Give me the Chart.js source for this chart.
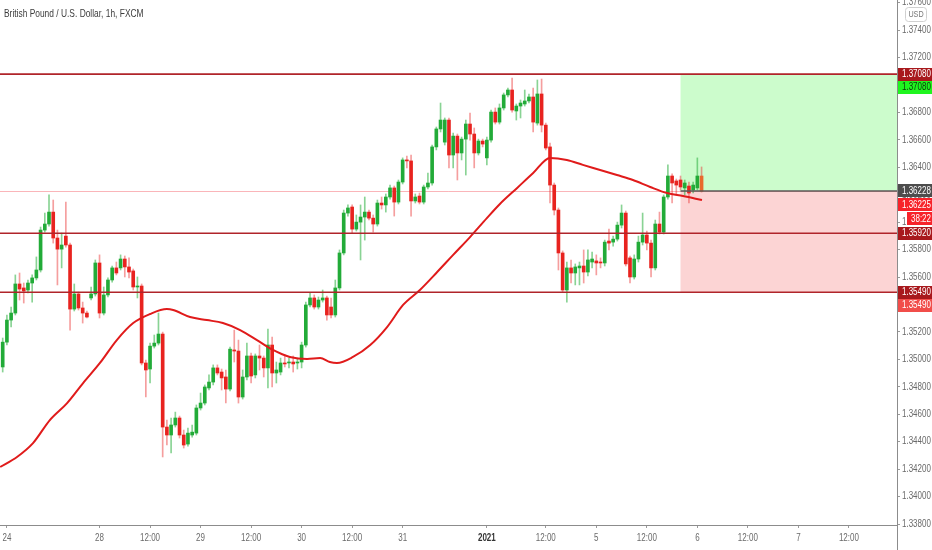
<!DOCTYPE html>
<html>
<head>
<meta charset="utf-8">
<title>GBPUSD 1h</title>
<script src="https://cdn.jsdelivr.net/npm/chart.js@4.4.1/dist/chart.umd.min.js"></script>
<style>
  html, body { margin: 0; padding: 0; background: #ffffff; }
  #wrap { width: 932px; height: 550px; }
</style>
</head>
<body>
<div id="wrap"><canvas id="priceChart" width="932" height="550"></canvas></div>
<script>
const chartTitle = "British Pound / U.S. Dollar, 1h, FXCM";

// hourly candles (bar index = position on the time axis)
const open = [
  1.34945,1.35126,1.35287,1.35338,1.35550,1.35521,1.35506,1.35557,1.35594,1.35652,
  1.35943,1.35987,1.36074,1.35885,1.35804,1.35899,1.35834,1.35367,1.35477,1.35375,
  1.35338,1.35448,1.35477,1.35703,1.35338,1.35470,1.35579,1.35667,1.35667,1.35732,
  1.35674,1.35645,1.35528,1.35535,1.34974,1.34930,1.35097,1.35119,1.35185,1.34507,
  1.34449,1.34522,1.34573,1.34449,1.34383,1.34449,1.34463,1.34646,1.34682,1.34792,
  1.34835,1.34938,1.34908,1.34872,1.34784,1.35069,1.35061,1.34726,1.34872,1.35025,
  1.34887,1.35025,1.35010,1.34938,1.35105,1.34901,1.34908,1.34974,1.34974,1.34981,
  1.34974,1.34981,1.35105,1.35397,1.35448,1.35382,1.35433,1.35448,1.35382,1.35324,
  1.35521,1.35776,1.36067,1.36111,1.35950,1.36001,1.36038,1.36074,1.36030,1.35987,
  1.36140,1.36126,1.36184,1.36250,1.36147,1.36293,1.36454,1.36447,1.36155,1.36191,
  1.36147,1.36257,1.36286,1.36549,1.36680,1.36584,1.36745,1.36490,1.36628,1.36505,
  1.36606,1.36716,1.36643,1.36505,1.36592,1.36469,1.36599,1.36803,1.36730,1.36833,
  1.36928,1.36964,1.36811,1.36847,1.36862,1.36884,1.36913,1.36723,1.36935,1.36708,
  1.36549,1.36271,1.36089,1.35776,1.35506,1.35667,1.35630,1.35667,1.35681,1.35637,
  1.35710,1.35718,1.35710,1.35703,1.35863,1.35855,1.35877,1.35979,1.36067,1.35740,
  1.35601,1.35732,1.35855,1.35907,1.35848,1.35667,1.35987,1.35928,1.36184,1.36337,
  1.36301,1.36308,1.36250,1.36264,1.36235,1.36250,1.36337
];
const high = [
  1.35156,1.35324,1.35382,1.35616,1.35630,1.35557,1.35579,1.35616,1.35747,1.35965,
  1.36067,1.36199,1.36162,1.35943,1.35921,1.36147,1.35848,1.35550,1.35491,1.35418,
  1.35353,1.35528,1.35725,1.35762,1.35528,1.35594,1.35681,1.35710,1.35762,1.35754,
  1.35740,1.35659,1.35601,1.35550,1.34996,1.35119,1.35178,1.35338,1.35199,1.34558,
  1.34573,1.34616,1.34587,1.34485,1.34500,1.34522,1.34668,1.34755,1.34814,1.34887,
  1.34960,1.34960,1.34930,1.34923,1.35090,1.35214,1.35141,1.34923,1.35119,1.35047,
  1.35040,1.35105,1.35025,1.35221,1.35163,1.34981,1.35010,1.35032,1.35010,1.35025,
  1.35010,1.35126,1.35418,1.35484,1.35470,1.35455,1.35506,1.35462,1.35448,1.35579,
  1.35798,1.36089,1.36126,1.36126,1.36053,1.36126,1.36184,1.36089,1.36053,1.36162,
  1.36184,1.36206,1.36271,1.36264,1.36308,1.36469,1.36483,1.36490,1.36206,1.36213,
  1.36271,1.36359,1.36563,1.36694,1.36869,1.36760,1.36760,1.36650,1.36643,1.36621,
  1.36745,1.36796,1.36687,1.36606,1.36606,1.36621,1.36818,1.36833,1.36862,1.36942,
  1.36978,1.37051,1.36862,1.36891,1.36964,1.36935,1.36978,1.37037,1.37044,1.36723,
  1.36577,1.36286,1.36104,1.35791,1.35710,1.35725,1.35696,1.35710,1.35798,1.35798,
  1.35783,1.35762,1.35740,1.35870,1.35950,1.35899,1.36001,1.36126,1.36082,1.35754,
  1.35762,1.35899,1.36067,1.35936,1.35870,1.36016,1.36074,1.36199,1.36418,1.36352,
  1.36315,1.36337,1.36308,1.36293,1.36293,1.36469,1.36403
];
const low = [
  1.34908,1.35105,1.35236,1.35324,1.35433,1.35411,1.35484,1.35418,1.35579,1.35637,
  1.35928,1.35972,1.35848,1.35543,1.35667,1.35819,1.35214,1.35353,1.35360,1.35265,
  1.35302,1.35433,1.35462,1.35302,1.35324,1.35455,1.35564,1.35616,1.35652,1.35601,
  1.35594,1.35506,1.35448,1.34960,1.34726,1.34828,1.35083,1.35105,1.34289,1.34376,
  1.34318,1.34507,1.34427,1.34354,1.34368,1.34434,1.34449,1.34631,1.34668,1.34777,
  1.34814,1.34887,1.34777,1.34682,1.34770,1.34981,1.34682,1.34711,1.34850,1.34828,
  1.34865,1.34923,1.34872,1.34792,1.34799,1.34828,1.34887,1.34945,1.34938,1.34908,
  1.34930,1.34938,1.35090,1.35382,1.35367,1.35367,1.35418,1.35287,1.35302,1.35309,
  1.35506,1.35762,1.36045,1.35921,1.35936,1.35725,1.35870,1.36016,1.35928,1.35972,
  1.36096,1.36074,1.36169,1.36045,1.36133,1.36279,1.36396,1.36045,1.36140,1.36133,
  1.36133,1.36242,1.36271,1.36527,1.36658,1.36563,1.36396,1.36396,1.36308,1.36454,
  1.36344,1.36599,1.36396,1.36490,1.36549,1.36418,1.36584,1.36716,1.36716,1.36818,
  1.36913,1.36803,1.36745,1.36760,1.36847,1.36869,1.36658,1.36708,1.36658,1.36527,
  1.36140,1.36053,1.35652,1.35491,1.35418,1.35557,1.35543,1.35543,1.35557,1.35608,
  1.35667,1.35616,1.35667,1.35681,1.35798,1.35826,1.35863,1.35958,1.35681,1.35557,
  1.35586,1.35710,1.35834,1.35798,1.35601,1.35652,1.35914,1.35914,1.36169,1.36140,
  1.36199,1.36235,1.36199,1.36140,1.36213,1.36235,1.36220
];
const close = [
  1.35126,1.35287,1.35338,1.35550,1.35513,1.35499,1.35557,1.35594,1.35652,1.35943,
  1.35987,1.36074,1.35885,1.35804,1.35834,1.35834,1.35367,1.35477,1.35375,1.35338,
  1.35309,1.35477,1.35703,1.35338,1.35470,1.35579,1.35667,1.35630,1.35732,1.35674,
  1.35637,1.35528,1.35535,1.34974,1.34923,1.35097,1.35119,1.35185,1.34507,1.34449,
  1.34522,1.34573,1.34449,1.34376,1.34463,1.34470,1.34646,1.34682,1.34799,1.34835,
  1.34938,1.34901,1.34865,1.34784,1.35075,1.35061,1.34726,1.34872,1.35025,1.34879,
  1.35025,1.35010,1.34938,1.35105,1.34901,1.34923,1.34974,1.34967,1.34981,1.34967,
  1.34981,1.35105,1.35397,1.35448,1.35382,1.35433,1.35448,1.35324,1.35324,1.35521,
  1.35776,1.36067,1.36104,1.35950,1.36001,1.36038,1.36074,1.36030,1.35987,1.36140,
  1.36126,1.36184,1.36250,1.36147,1.36293,1.36454,1.36447,1.36155,1.36184,1.36147,
  1.36257,1.36286,1.36549,1.36680,1.36745,1.36745,1.36490,1.36628,1.36505,1.36606,
  1.36716,1.36643,1.36505,1.36592,1.36570,1.36599,1.36803,1.36730,1.36833,1.36928,
  1.36964,1.36818,1.36847,1.36869,1.36884,1.36913,1.36730,1.36935,1.36708,1.36541,
  1.36271,1.36089,1.35776,1.35506,1.35667,1.35630,1.35674,1.35681,1.35637,1.35725,
  1.35732,1.35703,1.35703,1.35855,1.35848,1.35877,1.35979,1.36067,1.35696,1.35601,
  1.35732,1.35855,1.35907,1.35848,1.35667,1.35987,1.35928,1.36184,1.36337,1.36286,
  1.36271,1.36257,1.36286,1.36213,1.36271,1.36337,1.36225
];

// moving average line, sampled along the curve
const maIndex = [
  -0.6, 3.4, 7.2, 11.2, 15.3, 19.1, 23.1, 27.1, 31.0, 35.0, 39.0, 40.5, 44.5,
  48.5, 52.3, 56.4, 60.4, 64.2, 68.2, 72.3, 75.4, 77.7, 79.4, 83.2, 87.3, 91.3,
  95.1, 99.1, 103.2, 107.0, 111.0, 115.0, 118.1, 122.2, 126.0, 130.0, 134.0,
  137.8, 141.9, 145.9, 149.7, 153.8, 157.8, 161.6, 166.1
];
const maValues = [
  1.34216, 1.34289, 1.34390, 1.34558, 1.34682, 1.34828, 1.34974, 1.35141, 1.35265,
  1.35331, 1.35367, 1.35360, 1.35309, 1.35287, 1.35265, 1.35214, 1.35141, 1.35069,
  1.35018, 1.35003, 1.35010, 1.34981, 1.34974, 1.35018, 1.35105, 1.35236, 1.35397,
  1.35506, 1.35637, 1.35762, 1.35892, 1.36030, 1.36133, 1.36250, 1.36359, 1.36469,
  1.36454, 1.36418, 1.36381, 1.36344, 1.36308, 1.36257, 1.36213, 1.36191, 1.36162
];

// horizontal levels and the long position drawing
const levelPrices = [1.3708, 1.3592, 1.3549];
const targetPrice = 1.3708;
const entryPrice = 1.36228;
const stopPrice = 1.3549;
const positionStart = 161;
const countdown = "38:22";

const xTickIndex = [1, 23, 35, 47, 59, 71, 83, 95, 115, 129, 141, 153, 165, 177, 189, 201];
const xTickLabels = ["24", "28", "12:00", "29", "12:00", "30", "12:00", "31",
  "2021", "12:00", "5", "12:00", "6", "12:00", "7", "12:00"];
const yTickValues = [
  1.338, 1.340, 1.342, 1.344, 1.346, 1.348, 1.350, 1.352, 1.354, 1.356,
  1.358, 1.360, 1.362, 1.364, 1.366, 1.368, 1.370, 1.372, 1.374, 1.376
];

const FONT = '"Liberation Sans", Arial, sans-serif';
const SQUEEZE = 0.8; // the screenshot uses a narrow face
const lastIdx = close.length - 1;

const bodyColor = (i) => {
  if (i === lastIdx) return "#e8692c";
  return close[i] >= open[i] ? "#22ab38" : "#e8231f";
};
const wickColor = (i) =>
  close[i] >= open[i] ? "rgba(40, 175, 60, 0.55)" : "rgba(232, 40, 40, 0.45)";

const fmt = (v) => v.toFixed(5);

const narrowText = (ctx, text, x, y, size, color, align, weight) => {
  ctx.save();
  ctx.font = (weight || "normal") + " " + size + "px " + FONT;
  ctx.fillStyle = color;
  ctx.textAlign = align || "left";
  ctx.textBaseline = "middle";
  ctx.translate(x, y);
  ctx.scale(SQUEEZE, 1);
  ctx.fillText(text, 0, 0);
  ctx.restore();
};

const overlayPlugin = {
  id: "overlay",
  beforeDatasetsDraw(chart) {
    const { ctx, chartArea: a, scales } = chart;
    const x = scales.x;
    const y = scales.y;
    const bx = x.getPixelForValue(positionStart);
    ctx.save();
    // profit / loss zones
    ctx.fillStyle = "rgba(0, 240, 0, 0.2)";
    ctx.fillRect(bx, y.getPixelForValue(targetPrice), a.right - bx,
      y.getPixelForValue(entryPrice) - y.getPixelForValue(targetPrice));
    ctx.fillStyle = "rgba(240, 60, 60, 0.22)";
    ctx.fillRect(bx, y.getPixelForValue(entryPrice), a.right - bx,
      y.getPixelForValue(stopPrice) - y.getPixelForValue(entryPrice));
    // last price line
    const ly = Math.round(y.getPixelForValue(close[lastIdx])) + 0.5;
    ctx.strokeStyle = "rgba(242, 70, 80, 0.4)";
    ctx.lineWidth = 1;
    ctx.beginPath();
    ctx.moveTo(a.left, ly);
    ctx.lineTo(a.right, ly);
    ctx.stroke();
    ctx.restore();
  },
  afterDatasetsDraw(chart) {
    const { ctx, chartArea: a, scales } = chart;
    const x = scales.x;
    const y = scales.y;
    ctx.save();
    ctx.strokeStyle = "#b0242a";
    ctx.lineWidth = 1.6;
    levelPrices.forEach((p) => {
      const py = y.getPixelForValue(p);
      ctx.beginPath();
      ctx.moveTo(a.left, py);
      ctx.lineTo(a.right, py);
      ctx.stroke();
    });
    const bx = x.getPixelForValue(positionStart);
    const ey = y.getPixelForValue(entryPrice);
    ctx.strokeStyle = "#5a5a5a";
    ctx.lineWidth = 1.6;
    ctx.beginPath();
    ctx.moveTo(bx, ey);
    ctx.lineTo(a.right, ey);
    ctx.stroke();
    ctx.restore();
  },
  afterDraw(chart) {
    const { ctx, chartArea: a, scales, width, height } = chart;
    const x = scales.x;
    const y = scales.y;
    ctx.save();

    // axis line runs on through the time scale
    ctx.strokeStyle = "#8c8c8c";
    ctx.lineWidth = 1;
    ctx.beginPath();
    ctx.moveTo(a.right + 0.5, a.bottom);
    ctx.lineTo(a.right + 0.5, height);
    ctx.stroke();

    // tick labels in a narrow face
    y.ticks.forEach((t) => {
      narrowText(ctx, fmt(t.value), a.right + 5, y.getPixelForValue(t.value), 10, "#6a6a6a");
    });
    x.ticks.forEach((t, i) => {
      const bold = xTickLabels[i] === "2021";
      narrowText(ctx, xTickLabels[i], x.getPixelForValue(t.value), a.bottom + 13, 10,
        bold ? "#333333" : "#6a6a6a", "center", bold ? "bold" : "normal");
    });

    const tag = (cy, text, bg, fg, left) => {
      const h = 13;
      const lx = left || a.right + 1;
      ctx.fillStyle = bg;
      ctx.fillRect(lx, Math.round(cy - h / 2), width - lx, h);
      narrowText(ctx, text, lx + 4, cy + 0.5, 10, fg);
    };

    levelPrices.forEach((p) => tag(y.getPixelForValue(p), fmt(p), "#a8191d", "#ffffff"));
    tag(y.getPixelForValue(targetPrice) + 13, fmt(targetPrice), "#1ff51f", "#0c3a0c");
    const ey = y.getPixelForValue(entryPrice);
    tag(ey, fmt(entryPrice), "#4d4d4d", "#ffffff");
    tag(ey + 14, fmt(close[lastIdx]), "#f7232a", "#ffffff");
    tag(ey + 28, countdown, "#f7232a", "#ffffff", a.right + 10);
    tag(y.getPixelForValue(stopPrice) + 13, fmt(stopPrice), "#f14d4a", "#ffffff");

    // currency badge
    ctx.fillStyle = "#ffffff";
    ctx.strokeStyle = "#d0d0d0";
    ctx.lineWidth = 1;
    ctx.beginPath();
    ctx.roundRect(a.right + 8.5, 7.5, 21, 14, 3);
    ctx.fill();
    ctx.stroke();
    narrowText(ctx, "USD", a.right + 19, 14.5, 9, "#777777", "center");

    // title
    narrowText(ctx, chartTitle, 4, 14, 10.5, "#3c3c3c");
    ctx.restore();
  },
};

const priceCtx = document.getElementById("priceChart").getContext("2d");
const priceChart = new Chart(priceCtx, {
  type: "bar",
  data: {
    datasets: [
      {
        type: "line",
        label: "MA",
        data: maIndex.map((v, i) => ({ x: v, y: maValues[i] })),
        borderColor: "#e01b1b",
        borderWidth: 2,
        pointRadius: 0,
        cubicInterpolationMode: "monotone",
        order: 0,
      },
      {
        label: "Bodies",
        data: open.map((o, i) => ({ x: i, y: [o, close[i]] })),
        backgroundColor: open.map((o, i) => bodyColor(i)),
        barThickness: 3,
        minBarLength: 1,
        grouped: false,
        order: 1,
      },
      {
        label: "Wicks",
        data: low.map((l, i) => ({ x: i, y: [l, high[i]] })),
        backgroundColor: low.map((l, i) => wickColor(i)),
        barThickness: 1,
        grouped: false,
        order: 2,
      },
    ],
  },
  options: {
    responsive: false,
    devicePixelRatio: 1,
    animation: false,
    layout: { padding: 0 },
    plugins: {
      legend: { display: false },
      tooltip: { enabled: false },
    },
    scales: {
      x: {
        type: "linear",
        offset: false,
        min: -0.641,
        max: 212.42,
        afterBuildTicks: (scale) => {
          scale.ticks = xTickIndex.map((v) => ({ value: v }));
        },
        afterFit: (scale) => {
          scale.height = 25;
        },
        grid: { offset: false, drawOnChartArea: false, drawTicks: true, tickLength: 3, color: "#9a9a9a" },
        border: { color: "#8c8c8c" },
        ticks: { display: false },
      },
      y: {
        type: "linear",
        position: "right",
        min: 1.33793,
        max: 1.3762,
        afterBuildTicks: (scale) => {
          scale.ticks = yTickValues.map((v) => ({ value: v }));
        },
        afterFit: (scale) => {
          scale.width = 35;
        },
        grid: { drawOnChartArea: false, drawTicks: true, tickLength: 3, color: "#9a9a9a" },
        border: { color: "#8c8c8c" },
        ticks: { display: false },
      },
    },
  },
  plugins: [overlayPlugin],
});
</script>
</body>
</html>
